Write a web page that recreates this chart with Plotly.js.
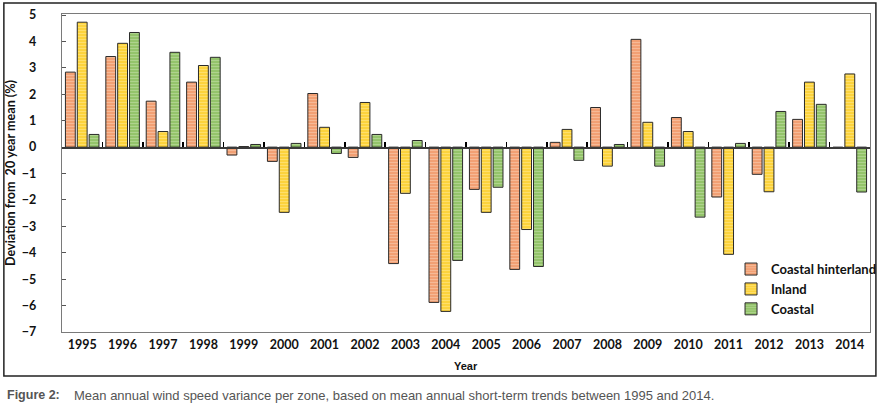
<!DOCTYPE html>
<html>
<head>
<meta charset="utf-8">
<script src="https://cdn.plot.ly/plotly-3.0.1.min.js"></script>
<style>html,body{margin:0;padding:0;background:#fff;}</style>
</head>
<body>
<div id="chart" style="width:891px;height:407px;"></div>
<script>
var years = ['1995','1996','1997','1998','1999','2000','2001','2002','2003','2004','2005','2006','2007','2008','2009','2010','2011','2012','2013','2014'];
var coastalHinterland = [2.84, 3.43, 1.74, 2.46, -0.30, -0.54, 2.03, -0.39, -4.41, -5.88, -1.60, -4.63, 0.18, 1.50, 4.08, 1.12, -1.89, -1.03, 1.05, -0.03];
var inland = [4.73, 3.93, 0.59, 3.09, 0.02, -2.47, 0.75, 1.69, -1.75, -6.22, -2.47, -3.12, 0.67, -0.72, 0.94, 0.59, -4.06, -1.69, 2.46, 2.77];
var coastal = [0.48, 4.34, 3.59, 3.40, 0.10, 0.14, -0.24, 0.48, 0.25, -4.29, -1.52, -4.52, -0.50, 0.10, -0.72, -2.65, 0.14, 1.35, 1.62, -1.70];
var seriesNames = ['Coastal hinterland', 'Inland', 'Coastal'];
var yTitle = 'Deviation from  20 year mean (%)';
var xTitle = 'Year';
var captionLabel = 'Figure 2:';
var captionText = 'Mean annual wind speed variance per zone, based on mean annual short-term trends between 1995 and 2014.';

var FONT = 'Lato, "Open Sans", sans-serif';
var NARROW = '"Liberation Sans Narrow", "Liberation Sans", Arial, sans-serif';
var yRange = [-7, 5.04];
var zeroPos = (0 - yRange[0]) / (yRange[1] - yRange[0]);
var n = years.length;
var boundaryTicks = [];
for (var i = 0; i <= n; i++) boundaryTicks.push(i - 0.5);
var idx = years.map(function(_, i){ return i; });

function barTrace(name, vals, bg, fg) {
  return {
    type: 'bar', name: name, x: years, y: vals,
    marker: {
      color: bg,
      line: {color: '#2a2a2a', width: 1},
      pattern: {shape: '-', bgcolor: bg, fgcolor: fg, size: 3, solidity: 0.5, fillmode: 'overlay'}
    },
    hoverinfo: 'x+y+name'
  };
}

var traces = [
  barTrace(seriesNames[0], coastalHinterland, '#F09868', '#FCD9C4'),
  barTrace(seriesNames[1], inland, '#FCCF2E', '#FFF0A8'),
  barTrace(seriesNames[2], coastal, '#8CBF60', '#D0E8BA'),
  {type: 'scatter', mode: 'markers', x: idx, y: idx.map(function(){return 0;}),
   xaxis: 'x2', yaxis: 'y2', marker: {opacity: 0, size: 1}, showlegend: false, hoverinfo: 'skip'}
];

var layout = {
  width: 891, height: 407,
  margin: {l: 62, r: 9, t: 14, b: 75, pad: 0},
  paper_bgcolor: 'rgba(0,0,0,0)', plot_bgcolor: 'rgba(0,0,0,0)',
  barmode: 'group', bargap: 0.12, bargroupgap: 0.17,
  font: {family: FONT, color: '#111'},
  showlegend: true,
  legend: {x: 0.828, y: 0.245, xanchor: 'left', yanchor: 'top', bgcolor: 'rgba(0,0,0,0)',
           font: {family: FONT, size: 13, weight: 'bold', color: '#111'}, itemwidth: 30, tracegroupgap: 0},
  xaxis: {
    type: 'category', categoryarray: years, categoryorder: 'array', range: [-0.5, n - 0.5],
    showline: true, linecolor: '#7a7a7a', linewidth: 1.2, mirror: true,
    ticks: '', showgrid: false, zeroline: false,
    tickfont: {family: FONT, size: 12.5, weight: 'bold', color: '#111'}, ticklabelstandoff: 1
  },
  xaxis2: {
    type: 'linear', range: [-0.5, n - 0.5], anchor: 'y2', side: 'bottom',
    showline: true, linecolor: '#3a3a3a', linewidth: 1.6,
    tickmode: 'array', tickvals: boundaryTicks,
    ticks: 'inside', ticklen: 5, tickwidth: 1.6, tickcolor: '#000',
    showticklabels: false, showgrid: false, zeroline: false
  },
  yaxis2: {
    domain: [zeroPos, 1], anchor: 'x2', range: [0, 1],
    visible: false, showgrid: false, zeroline: false, showline: false
  },
  yaxis: {
    range: yRange, dtick: 1, tick0: 0,
    showline: true, linecolor: '#7a7a7a', linewidth: 1.2, mirror: true,
    ticks: 'inside', ticklen: 4, tickcolor: '#555', tickwidth: 1,
    showgrid: false, zeroline: false,
    tickfont: {family: FONT, size: 12.5, weight: 'bold', color: '#111'}, ticklabelstandoff: 22,
    title: {text: yTitle, font: {family: FONT, size: 12.6, weight: 'bold', color: '#111'}, standoff: 3}
  },
  shapes: [
    {type: 'rect', xref: 'paper', yref: 'paper',
     x0: (3 - 62) / 820, x1: (888 - 62) / 820, y0: (332 - 376) / 318, y1: (332 - 3) / 318,
     line: {color: '#222', width: 1.5}, fillcolor: 'rgba(0,0,0,0)', layer: 'below'}
  ],
  annotations: [
    {xref: 'paper', yref: 'paper', x: 0.5, y: (332 - 366) / 318, xanchor: 'center', yanchor: 'middle',
     text: xTitle, showarrow: false, font: {family: NARROW, size: 11, weight: 'bold', color: '#111'}},
    {xref: 'paper', yref: 'paper', x: (4 - 62) / 820, y: (332 - 395) / 318, xanchor: 'left', yanchor: 'middle',
     text: captionLabel, showarrow: false, font: {family: NARROW, size: 12.5, weight: 'bold', color: '#555'}},
    {xref: 'paper', yref: 'paper', x: (72 - 62) / 820, y: (332 - 395) / 318, xanchor: 'left', yanchor: 'middle',
     text: captionText, showarrow: false, font: {family: NARROW, size: 13, color: '#555'}}
  ]
};

Plotly.newPlot('chart', traces, layout, {displayModeBar: false, staticPlot: true});
</script>
</body>
</html>
